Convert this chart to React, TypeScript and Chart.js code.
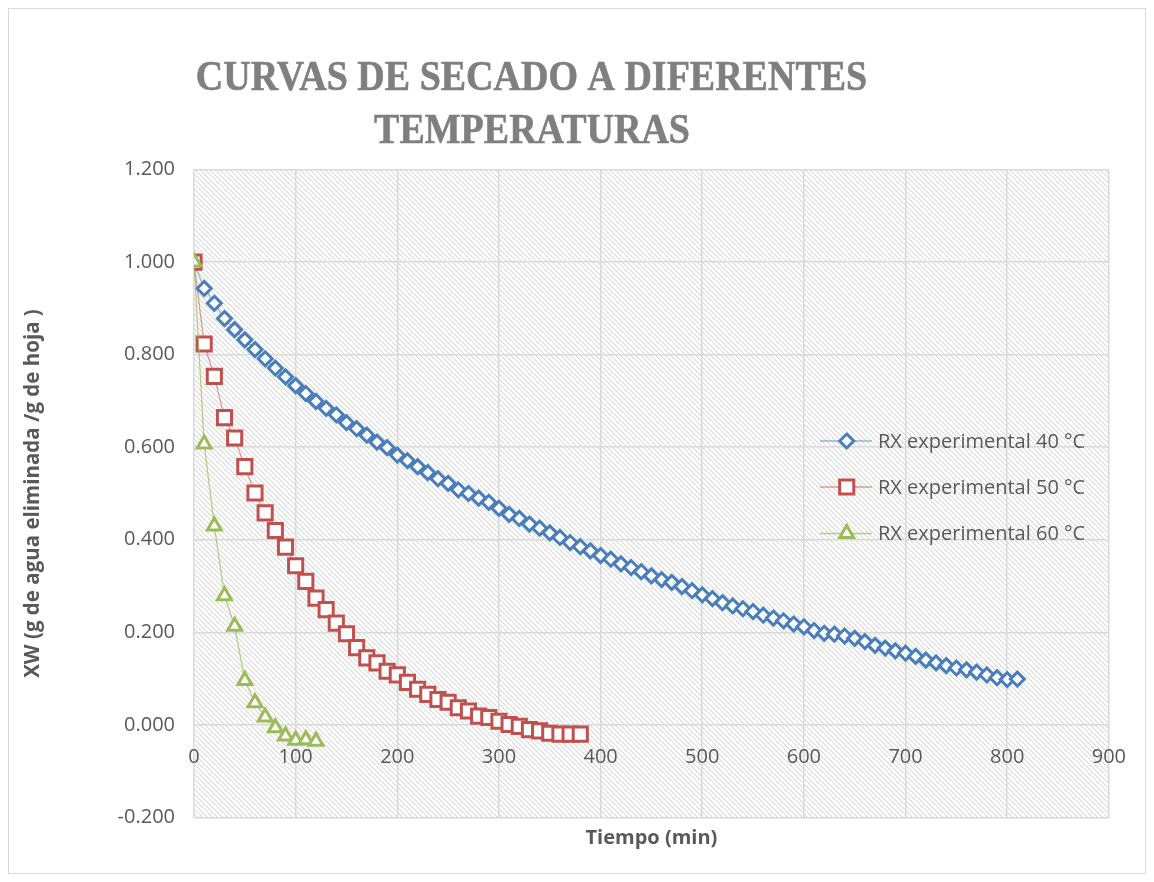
import React, { useEffect, useRef } from 'react';
import { Chart, registerables } from 'chart.js';

Chart.register(...registerables);

// ---------- data ----------
const time40 = [
  0, 10, 20, 30, 40, 50, 60, 70, 80, 90,
  100, 110, 120, 130, 140, 150, 160, 170, 180, 190,
  200, 210, 220, 230, 240, 250, 260, 270, 280, 290,
  300, 310, 320, 330, 340, 350, 360, 370, 380, 390,
  400, 410, 420, 430, 440, 450, 460, 470, 480, 490,
  500, 510, 520, 530, 540, 550, 560, 570, 580, 590,
  600, 610, 620, 630, 640, 650, 660, 670, 680, 690,
  700, 710, 720, 730, 740, 750, 760, 770, 780, 790,
  800, 810,
];
const xw40 = [
  1.0, 0.943, 0.911, 0.878, 0.854, 0.832, 0.811, 0.791, 0.771, 0.752,
  0.733, 0.716, 0.699, 0.684, 0.67, 0.653, 0.64, 0.626, 0.611, 0.599,
  0.583, 0.571, 0.558, 0.545, 0.532, 0.522, 0.508, 0.5, 0.49, 0.481,
  0.468, 0.455, 0.446, 0.434, 0.425, 0.415, 0.405, 0.394, 0.385, 0.376,
  0.366, 0.358, 0.348, 0.34, 0.331, 0.322, 0.314, 0.308, 0.299, 0.29,
  0.281, 0.273, 0.264, 0.257, 0.251, 0.245, 0.237, 0.231, 0.225, 0.218,
  0.212, 0.204, 0.198, 0.196, 0.192, 0.187, 0.18, 0.172, 0.166, 0.16,
  0.155, 0.148, 0.14, 0.134, 0.128, 0.123, 0.119, 0.114, 0.108, 0.102,
  0.098, 0.099,
];
const time50 = [
  0, 10, 20, 30, 40, 50, 60, 70, 80, 90,
  100, 110, 120, 130, 140, 150, 160, 170, 180, 190,
  200, 210, 220, 230, 240, 250, 260, 270, 280, 290,
  300, 310, 320, 330, 340, 350, 360, 370, 380,
];
const xw50 = [
  1.0, 0.823, 0.753, 0.664, 0.62, 0.558, 0.501, 0.458, 0.42, 0.384,
  0.344, 0.31, 0.274, 0.249, 0.22, 0.197, 0.167, 0.145, 0.134, 0.116,
  0.108, 0.092, 0.077, 0.066, 0.055, 0.049, 0.037, 0.03, 0.019, 0.016,
  0.008, 0.001, -0.003, -0.01, -0.013, -0.018, -0.02, -0.02, -0.02,
];
const time60 = [0, 10, 20, 30, 40, 50, 60, 70, 80, 90, 100, 110, 120];
const xw60 = [1.0, 0.607, 0.43, 0.279, 0.213, 0.096, 0.048, 0.017, -0.006, -0.024, -0.033, -0.032, -0.035];

const seriesNames = ['RX experimental 40 °C', 'RX experimental 50 °C', 'RX experimental 60 °C'];
const titleLines = ['CURVAS DE SECADO A DIFERENTES', 'TEMPERATURAS'];
const xAxisTitle = 'Tiempo (min)';
const yAxisTitle = 'XW (g de agua eliminada /g de hoja )';

// ---------- styles ----------
const SANS = '"Open Sans", "Noto Sans", sans-serif';
const TEXT = '#595959';
const GRID = '#d9d9d9';
const COLORS = ['#4a7ebb', '#c0504d', '#9bbb59'];
const LINE_COLORS = ['rgba(74,126,187,0.55)', 'rgba(192,80,77,0.55)', 'rgba(155,187,89,0.7)'];
const STYLES = ['rectRot', 'rect', 'triangle'];
const RADII = [7, 10, 8];
const BORDERS = [3, 3, 3];

function makeHatch(): CanvasPattern | string {
  const p = 5;
  const c = document.createElement('canvas');
  c.width = p;
  c.height = p;
  const g = c.getContext('2d');
  if (!g) return '#f0f0f0';
  g.fillStyle = '#ffffff';
  g.fillRect(0, 0, p, p);
  for (let i = 0; i < p; i++) {
    g.fillStyle = '#d8d8d8';
    g.fillRect(i, i, 1, 1);
    g.fillStyle = '#f1f1f1';
    g.fillRect((i + 1) % p, i, 1, 1);
  }
  const pat = g.createPattern(c, 'repeat');
  return pat || '#f0f0f0';
}

function drawMarker(ctx: CanvasRenderingContext2D, style: string, x: number, y: number, r: number) {
  ctx.beginPath();
  if (style === 'rectRot') {
    ctx.moveTo(x - r, y);
    ctx.lineTo(x, y - r);
    ctx.lineTo(x + r, y);
    ctx.lineTo(x, y + r);
    ctx.closePath();
  } else if (style === 'rect') {
    const s = Math.SQRT1_2 * r;
    ctx.rect(x - s, y - s, 2 * s, 2 * s);
  } else {
    ctx.moveTo(x, y - r);
    ctx.lineTo(x + 0.866 * r, y + 0.5 * r);
    ctx.lineTo(x - 0.866 * r, y + 0.5 * r);
    ctx.closePath();
  }
  ctx.fill();
  ctx.stroke();
}

export default function App() {
  const ref = useRef<HTMLCanvasElement | null>(null);

  useEffect(() => {
    const canvas = ref.current;
    if (!canvas) return;
    const hatch = makeHatch();

    const decor = {
      id: 'decor',
      beforeDraw(chart: any) {
        const { ctx, chartArea: a, width, height } = chart;
        ctx.save();
        ctx.fillStyle = '#ffffff';
        ctx.fillRect(0, 0, width, height);
        ctx.strokeStyle = GRID;
        ctx.lineWidth = 1;
        ctx.strokeRect(0.5, 0.5, width - 1, height - 1);
        ctx.fillStyle = hatch;
        ctx.fillRect(a.left, a.top, a.right - a.left, a.bottom - a.top);
        // title
        ctx.fillStyle = '#7f7f7f';
        ctx.strokeStyle = '#7f7f7f';
        ctx.lineWidth = 0.6;
        ctx.font = 'bold 42.7px "Liberation Serif", serif';
        ctx.textAlign = 'center';
        ctx.textBaseline = 'alphabetic';
        const rows = [
          { cx: 523.5, y: 82 },
          { cx: 524, y: 135.3 },
        ];
        titleLines.forEach((t, i) => {
          ctx.save();
          ctx.translate(rows[i].cx, rows[i].y);
          ctx.scale(0.89, 1);
          ctx.fillText(t, 0, 0);
          ctx.strokeText(t, 0, 0);
          ctx.restore();
        });
        ctx.restore();
      },
      afterDatasetsDraw(chart: any) {
        const { ctx } = chart;
        const rowsY = [433, 479, 525.5];
        ctx.save();
        seriesNames.forEach((name, i) => {
          const y = rowsY[i];
          ctx.strokeStyle = LINE_COLORS[i];
          ctx.lineWidth = 1.5;
          ctx.beginPath();
          ctx.moveTo(812, y);
          ctx.lineTo(864, y);
          ctx.stroke();
          ctx.fillStyle = '#ffffff';
          ctx.strokeStyle = COLORS[i];
          ctx.lineWidth = BORDERS[i];
          drawMarker(ctx, STYLES[i], 838.7, y, RADII[i]);
          ctx.fillStyle = TEXT;
          ctx.font = `20px ${SANS}`;
          ctx.textAlign = 'left';
          ctx.textBaseline = 'middle';
          ctx.fillText(name, 870, y + 1);
        });
        ctx.restore();
      },
    };

    const series = [
      { t: time40, v: xw40 },
      { t: time50, v: xw50 },
      { t: time60, v: xw60 },
    ];

    const chart = new Chart(canvas, {
      type: 'scatter',
      data: {
        datasets: series.map((s, i) => ({
          label: seriesNames[i],
          data: s.t.map((t, k) => ({ x: t, y: s.v[k] })),
          showLine: true,
          borderColor: LINE_COLORS[i],
          borderWidth: 1.3,
          backgroundColor: '#ffffff',
          pointStyle: STYLES[i] as any,
          pointRadius: RADII[i],
          pointBorderWidth: BORDERS[i],
          pointBackgroundColor: '#ffffff',
          pointBorderColor: COLORS[i],
          order: 3 - i,
          xAxisID: 'x',
          yAxisID: 'y',
        })),
      },
      options: {
        responsive: false,
        animation: false,
        events: [],
        layout: { padding: { left: 0, right: 28, top: 161.5, bottom: 0 } },
        plugins: {
          legend: { display: false },
          title: { display: false },
          tooltip: { enabled: false },
        },
        scales: {
          x: {
            type: 'linear',
            position: 'bottom',
            min: 0,
            max: 900,
            ticks: { display: false, stepSize: 100 },
            grid: { color: GRID, lineWidth: 1.5, drawTicks: false },
            border: { display: false },
            title: {
              display: true,
              text: xAxisTitle,
              color: TEXT,
              font: { family: SANS, size: 20, weight: 'bold' },
              padding: { top: 0, bottom: 24 },
            },
            afterFit(s: any) {
              s.height = 56.5;
            },
          },
          x2: {
            type: 'linear',
            axis: 'x',
            position: { y: 0 },
            min: 0,
            max: 900,
            ticks: {
              stepSize: 100,
              color: TEXT,
              font: { family: SANS, size: 20 },
              padding: 20,
              maxRotation: 0,
            },
            grid: { display: false, drawTicks: false },
            border: { display: false },
          },
          y: {
            type: 'linear',
            position: 'left',
            min: -0.2,
            max: 1.2,
            ticks: {
              stepSize: 0.2,
              color: TEXT,
              font: { family: SANS, size: 20 },
              padding: 19,
              callback: (v: any) => {
                const n = Math.abs(Number(v)) < 1e-9 ? 0 : Number(v);
                return n.toFixed(3);
              },
            },
            grid: { color: GRID, lineWidth: 1.5, drawTicks: false },
            border: { display: false },
            title: {
              display: true,
              text: yAxisTitle,
              color: TEXT,
              font: { family: SANS, size: 20.5, weight: 'bold' },
              padding: { top: 13, bottom: 0 },
            },
            afterFit(s: any) {
              s.width = 186;
            },
          },
        } as any,
      },
      plugins: [decor],
    });

    return () => chart.destroy();
  }, []);

  return <canvas ref={ref} width={1138} height={866} style={{ display: 'block' }} />;
}
